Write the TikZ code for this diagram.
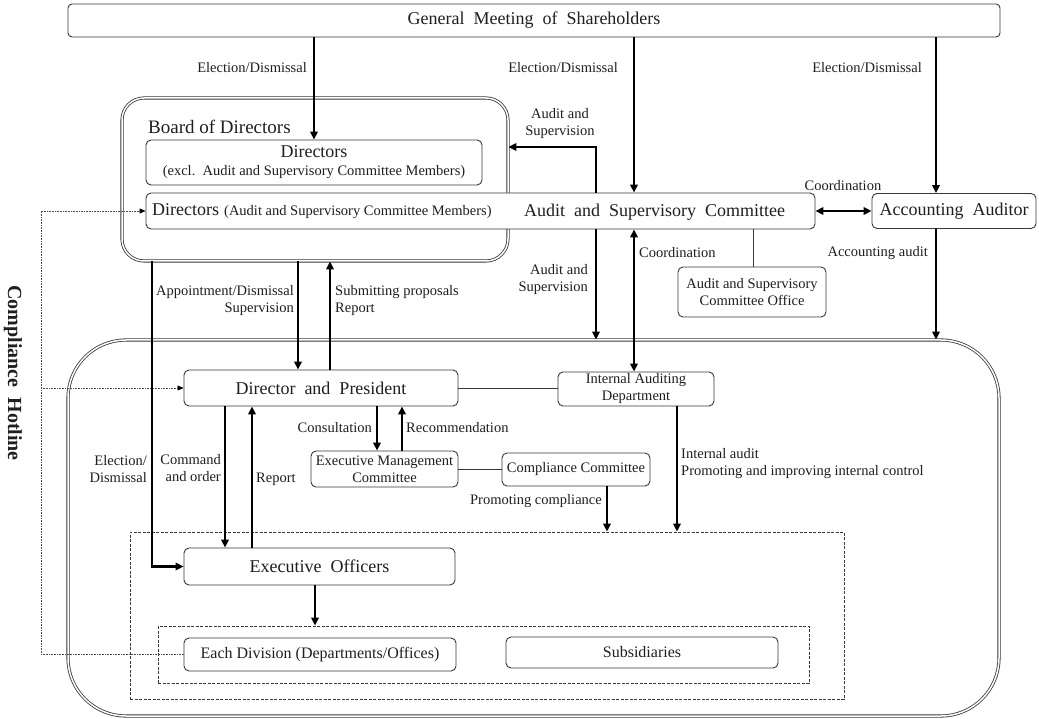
\documentclass[tikz,border=0pt]{standalone}
\usepackage{fontspec}
\setmainfont{Liberation Serif}
\usetikzlibrary{arrows.meta}
\newcommand\fbig{\fontsize{18}{21}\selectfont}
\newcommand\fbrd{\fontsize{19}{22}\selectfont}
\newcommand\flab{\fontsize{14.5}{17}\selectfont}
\newcommand\fmid{\fontsize{16}{19}\selectfont}
\newcommand\fhot{\fontsize{20}{23}\selectfont\bfseries}
\definecolor{ln}{gray}{0.22}
\definecolor{tx}{gray}{0.12}
\begin{document}
\begin{tikzpicture}[x=1pt,y=-1pt,
  every node/.style={text=tx},
  box/.style={draw=ln, line width=0.9pt, rounded corners=5pt, fill=white, inner sep=0pt},
  dbl/.style={draw=ln, line width=0.8pt, double=white, double distance=1.5pt, inner sep=0pt},
  dsh/.style={draw=ln, line width=0.8pt, dash pattern=on 3pt off 1.5pt, inner sep=0pt},
  lab/.style={font=\flab, inner sep=0pt},
  thk/.style={line width=2.4pt, black, -{Triangle[length=8pt,width=7.5pt]}},
  thkb/.style={line width=2.4pt, black, {Triangle[length=8pt,width=7.5pt]}-{Triangle[length=8pt,width=7.5pt]}},
  thn/.style={line width=0.8pt, ln},
  hotl/.style={line width=0.6pt, gray!60!black, densely dotted},
  hottip/.style={line width=0.6pt, black, -{Triangle[length=6pt,width=5pt]}}
]
\useasboundingbox[fill=white] (0,0) rectangle (1039,719);

% column coordinates
\coordinate (cH) at (152,0);
\coordinate (cI) at (225,0);
\coordinate (cJ) at (252,0);
\coordinate (cF) at (298,0);
\coordinate (cA) at (314,0);
\coordinate (cO) at (315,0);
\coordinate (cG) at (330,0);
\coordinate (cK) at (377,0);
\coordinate (cL) at (402,0);
\coordinate (cD) at (596,0);
\coordinate (cN) at (607,0);
\coordinate (cB) at (634,0);
\coordinate (cM) at (677,0);
\coordinate (cE) at (753,0);
\coordinate (cC) at (936,0);
\coordinate (hx) at (41,0);
\coordinate (asTurn) at (596,147);

% large frames
\node[dbl, rounded corners=58pt, minimum width=931pt, minimum height=376pt] (big) at (533.5,528) {};
\node[dbl, rounded corners=22pt, minimum width=386pt, minimum height=163pt] (board) at (315,179.5) {};

% top
\node[box, rounded corners=4pt, minimum width=932pt, minimum height=33pt, font=\fbig] (gm) at (534,20.5) {General\ \ Meeting\ \ of\ \ Shareholders};

% board contents
\node[anchor=west, font=\fbrd, inner sep=0pt] (boardlbl) at (148,127) {Board of Directors};
\node[box, minimum width=336pt, minimum height=45pt, align=center, font=\flab] (dir1) at (314,162.5) {{\fbig Directors}\\[1pt](excl.\ \ Audit and Supervisory Committee Members)};
\node[box, minimum width=669pt, minimum height=36pt] (asc) at (480.5,211) {};
\node[anchor=west, inner sep=0pt] (dir2lbl) at (152,211) {{\fbig Directors}\ \ {\flab (Audit and Supervisory Committee Members)}};
\node[font=\fbig, inner sep=0pt] (asclbl) at (654.5,212) {Audit\ \ and\ \ Supervisory\ \ Committee};

\node[box, minimum width=164pt, minimum height=35pt, font=\fbig] (aa) at (954,211) {Accounting\ \ Auditor};
\node[box, minimum width=148pt, minimum height=50pt, align=center, font=\flab] (office) at (752,292) {Audit and Supervisory\\Committee Office};

% inside big frame
\node[dsh, minimum width=714pt, minimum height=167pt] (dash1) at (487,615.5) {};
\node[dsh, minimum width=651pt, minimum height=57pt] (dash2) at (483.5,654.5) {};
\node[box, minimum width=274pt, minimum height=36pt, font=\fbig] (dp) at (321,388) {Director\ \ and\ \ President};
\node[box, minimum width=156pt, minimum height=34pt, align=center, font=\flab] (iad) at (636,389) {Internal Auditing\\Department};
\node[box, minimum width=147pt, minimum height=36pt, align=center, font=\flab] (emc) at (384.5,469) {Executive Management\\Committee};
\node[box, minimum width=148pt, minimum height=33pt, font=\flab] (cc) at (576,469.5) {Compliance Committee};
\node[box, minimum width=271pt, minimum height=37pt, font=\fbig] (eo) at (319.5,566.5) {Executive\ \ Officers};
\node[box, minimum width=272pt, minimum height=33pt, font=\fmid] (div) at (320,654.5) {Each Division (Departments/Offices)};
\node[box, minimum width=272pt, minimum height=31pt, font=\fmid] (subs) at (642,652.5) {Subsidiaries};

% hotline
\node[font=\fhot, rotate=-90, inner sep=0pt] (hot) at (13,373) {Compliance\ \ Hotline};
\draw[hotl] (div.west -| hx) |- ([xshift=-5pt]asc.west);
\draw[hotl] (dp.west -| hx) -- ([xshift=-5pt]dp.west);
\draw[hotl] (div.west -| hx) -- (div.west);
\draw[hottip] ([xshift=-6pt]asc.west) -- (asc.west);
\draw[hottip] ([xshift=-6pt]dp.west) -- (dp.west);

% arrows from the General Meeting
\draw[thk] (gm.south -| cA) -- (dir1.north -| cA);
\draw[thk] (gm.south -| cB) -- (asc.north -| cB);
\draw[thk] (gm.south -| cC) -- (aa.north -| cC);
\node[lab, anchor=east] (l1) at (307,68) {Election/Dismissal};
\node[lab, anchor=east] (l2) at (618,68) {Election/Dismissal};
\node[lab, anchor=east] (l3) at (922,68) {Election/Dismissal};

% audit committee relations
\draw[thk] (asc.north -| asTurn) -- (asTurn) -- (asTurn -| board.east);
\node[lab, align=center] (l4) at (560,124) {Audit and\\Supervision};
\draw[thkb] (asc.east) -- (asc.east -| aa.west);
\node[lab] (l5) at (843,186) {Coordination};
\draw[thn] (asc.south -| cE) -- (office.north -| cE);
\draw[thk] (asc.south -| cD) -- (big.north -| cD);
\node[lab, anchor=east, align=right] (l6) at (588,279.5) {Audit and\\Supervision};
\draw[thkb] (asc.south -| cB) -- (iad.north -| cB);
\node[lab, anchor=west] (l7) at (639,253) {Coordination};
\draw[thk] (aa.south -| cC) -- (big.north -| cC);
\node[lab, anchor=east] (l8) at (928,253) {Accounting audit};

% board <-> president
\draw[thk] (board.south -| cF) -- (dp.north -| cF);
\draw[thk] (dp.north -| cG) -- (board.south -| cG);
\node[lab, anchor=east, align=right] (l9) at (294,301) {Appointment/Dismissal\\Supervision};
\node[lab, anchor=west, align=left] (l10) at (335,301) {Submitting proposals\\Report};
\draw[thk] (board.south -| cH) |- (eo.west);
\node[lab, anchor=east, align=right] (l11) at (147,469) {Election/\\Dismissal};

% president relations
\draw[thn] (dp.east) -- (dp.east -| iad.west);
\draw[thk] (dp.south -| cI) -- (eo.north -| cI);
\draw[thk] (eo.north -| cJ) -- (dp.south -| cJ);
\node[lab, anchor=east, align=right] (l12) at (221,468) {Command\\and order};
\node[lab, anchor=west] (l13) at (256,479) {Report};
\draw[thk] (dp.south -| cK) -- (emc.north -| cK);
\draw[thk] (emc.north -| cL) -- (dp.south -| cL);
\node[lab, anchor=east] (l14) at (372,428) {Consultation};
\node[lab, anchor=west] (l15) at (406,428) {Recommendation};
\draw[thn] (emc.east) -- (emc.east -| cc.west);
\draw[thk] (cc.south -| cN) -- (dash1.north -| cN);
\node[lab, anchor=east] (l17) at (602,501) {Promoting compliance};
\draw[thk] (iad.south -| cM) -- (dash1.north -| cM);
\node[lab, anchor=west, align=left] (l16) at (681,464) {Internal audit\\Promoting and improving internal control};
\draw[thk] (eo.south -| cO) -- (dash2.north -| cO);
\end{tikzpicture}
\end{document}
